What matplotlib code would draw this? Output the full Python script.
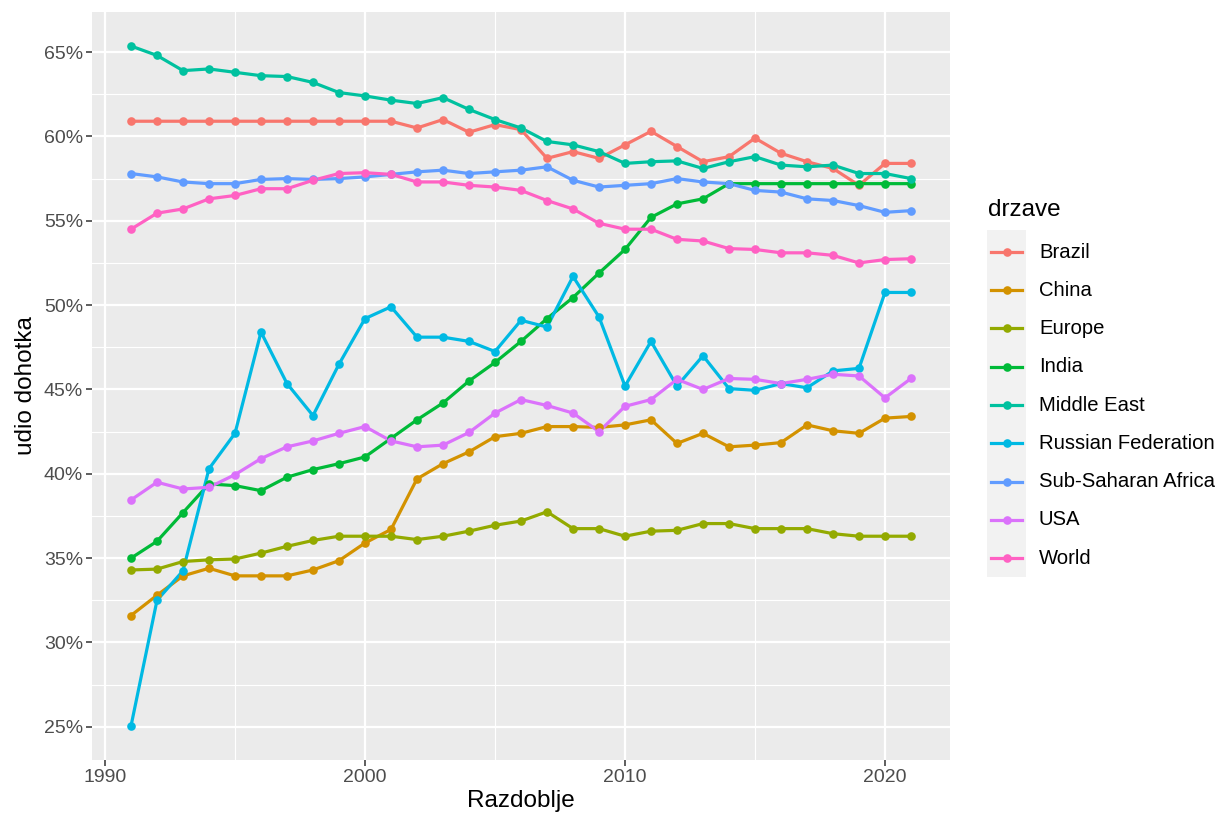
import matplotlib
matplotlib.use("Agg")
import matplotlib.pyplot as plt
from matplotlib.lines import Line2D
from matplotlib.patches import Rectangle
from matplotlib.ticker import FuncFormatter, MultipleLocator
import numpy as np

plt.rcParams['font.family'] = ['Liberation Sans', 'DejaVu Sans']

years = list(range(1991, 2022))

countries = ["Brazil", "China", "Europe", "India", "Middle East",
             "Russian Federation", "Sub-Saharan Africa", "USA", "World"]

brazil = [60.9, 60.9, 60.9, 60.9, 60.9, 60.9, 60.9, 60.9, 60.9, 60.9, 60.9,
          60.5, 61.0, 60.25, 60.7, 60.4, 58.7, 59.1, 58.7, 59.5, 60.3,
          59.4, 58.5, 58.8, 59.9, 59.0, 58.5, 58.1, 57.1, 58.4, 58.4]
china = [31.6, 32.8, 33.95, 34.4, 33.95, 33.95, 33.95, 34.3, 34.85, 35.9, 36.7,
         39.7, 40.6, 41.3, 42.2, 42.4, 42.8, 42.8, 42.75, 42.9, 43.2,
         41.8, 42.4, 41.6, 41.7, 41.85, 42.9, 42.55, 42.4, 43.3, 43.4]
europe = [34.3, 34.35, 34.8, 34.9, 34.95, 35.3, 35.7, 36.05, 36.3, 36.3, 36.3,
          36.1, 36.3, 36.6, 36.95, 37.2, 37.75, 36.75, 36.75, 36.3, 36.6,
          36.65, 37.05, 37.05, 36.75, 36.75, 36.75, 36.45, 36.3, 36.3, 36.3]
india = [35.0, 36.0, 37.7, 39.4, 39.3, 39.0, 39.8, 40.25, 40.6, 41.0, 42.1,
         43.2, 44.2, 45.5, 46.6, 47.85, 49.2, 50.45, 51.9, 53.3, 55.2,
         56.0, 56.3, 57.2, 57.2, 57.2, 57.2, 57.2, 57.2, 57.2, 57.2]
middle_east = [65.36, 64.8, 63.9, 64.0, 63.8, 63.6, 63.55, 63.2, 62.6, 62.4, 62.15,
               61.95, 62.3, 61.6, 61.0, 60.5, 59.7, 59.5, 59.1, 58.4, 58.5,
               58.55, 58.1, 58.5, 58.8, 58.3, 58.2, 58.3, 57.8, 57.8, 57.5]
russia = [25.05, 32.5, 34.25, 40.3, 42.4, 48.4, 45.35, 43.45, 46.5, 49.2, 49.9,
          48.1, 48.1, 47.85, 47.25, 49.1, 48.7, 51.7, 49.3, 45.2, 47.85,
          45.2, 47.0, 45.05, 44.95, 45.35, 45.1, 46.1, 46.25, 50.75, 50.75]
ssa = [57.8, 57.6, 57.3, 57.2, 57.2, 57.45, 57.5, 57.45, 57.5, 57.6, 57.75,
       57.9, 58.0, 57.8, 57.9, 58.0, 58.2, 57.4, 57.0, 57.1, 57.2,
       57.5, 57.3, 57.2, 56.8, 56.7, 56.3, 56.2, 55.9, 55.5, 55.6]
usa = [38.45, 39.5, 39.1, 39.2, 39.95, 40.9, 41.6, 41.95, 42.4, 42.8, 41.95,
       41.6, 41.7, 42.45, 43.6, 44.4, 44.05, 43.6, 42.5, 44.0, 44.4,
       45.6, 45.0, 45.65, 45.6, 45.35, 45.6, 45.9, 45.8, 44.5, 45.65]
world = [54.5, 55.45, 55.7, 56.3, 56.5, 56.9, 56.9, 57.4, 57.8, 57.85, 57.75,
         57.3, 57.3, 57.1, 57.0, 56.8, 56.2, 55.7, 54.85, 54.5, 54.5,
         53.9, 53.8, 53.35, 53.3, 53.1, 53.1, 52.95, 52.5, 52.7, 52.75]

series = [brazil, china, europe, india, middle_east, russia, ssa, usa, world]

# ggplot default hue palette for 9 levels
colors = ["#F8766D", "#D39200", "#93AA00", "#00BA38", "#00C19F",
          "#00B9E3", "#619CFF", "#DB72FB", "#FF61C3"]

W, H = 1222, 821
fig = plt.figure(figsize=(W / 100, H / 100), dpi=100)
ax = fig.add_axes([92 / W, 1 - 760 / H, (950 - 92) / W, (760 - 12) / H])
ax.set_facecolor("#EBEBEB")

# lines first, then points (like geom_line + geom_point)
for vals, col in zip(series, colors):
    ax.plot(years, vals, color=col, linewidth=2.3, zorder=2,
            solid_capstyle='butt')
for vals, col in zip(series, colors):
    ax.plot(years, vals, linestyle='none', marker='o', markersize=6.2,
            color=col, markeredgewidth=0, zorder=3)

# ggplot-like expansion
allv = np.concatenate([np.array(s) for s in series])
ymin, ymax = allv.min(), allv.max()
yr = ymax - ymin
ax.set_ylim(ymin - 0.05 * yr, ymax + 0.05 * yr)
xr = years[-1] - years[0]
ax.set_xlim(years[0] - 0.05 * xr, years[-1] + 0.05 * xr)

ax.xaxis.set_major_locator(MultipleLocator(10))
ax.xaxis.set_minor_locator(MultipleLocator(5))
ax.yaxis.set_major_locator(MultipleLocator(5))
ax.yaxis.set_minor_locator(MultipleLocator(2.5))
ax.yaxis.set_major_formatter(FuncFormatter(lambda v, p: f"{v:.0f}%"))

ax.grid(which='major', color='white', linewidth=1.6, zorder=0)
ax.grid(which='minor', color='white', linewidth=0.8, zorder=0)
ax.set_axisbelow(True)
for sp in ax.spines.values():
    sp.set_visible(False)

ax.tick_params(which='major', length=4.5, width=1.1, color='#333333',
               labelcolor='#4D4D4D', labelsize=14, pad=2)
ax.tick_params(which='minor', length=0)

ax.set_xlabel("Razdoblje", fontsize=17.5, color='black', labelpad=3)
ax.set_ylabel("udio dohotka", fontsize=17.5, color='black', labelpad=5)

# legend drawn by hand, ggplot style
fig.text(988 / W, 1 - 210 / H, "drzave", fontsize=17.5, ha='left', va='center')
fig.patches.append(Rectangle((987 / W, 1 - 577 / H), 39 / W, 347 / H,
                             transform=fig.transFigure, facecolor='#F2F2F2',
                             edgecolor='none', zorder=0))
for i, (name, col) in enumerate(zip(countries, colors)):
    yy = 1 - (252 + i * 38.25) / H
    fig.lines.append(Line2D([991 / W, 1022 / W], [yy, yy], color=col,
                            linewidth=2.3, transform=fig.transFigure))
    fig.lines.append(Line2D([1006.5 / W], [yy], color=col, marker='o',
                            markersize=6.2, markeredgewidth=0,
                            transform=fig.transFigure))
    fig.text(1039 / W, yy, name, fontsize=14.6, ha='left', va='center',
             color='black')

fig.savefig("out.png", dpi=100, facecolor='white')
